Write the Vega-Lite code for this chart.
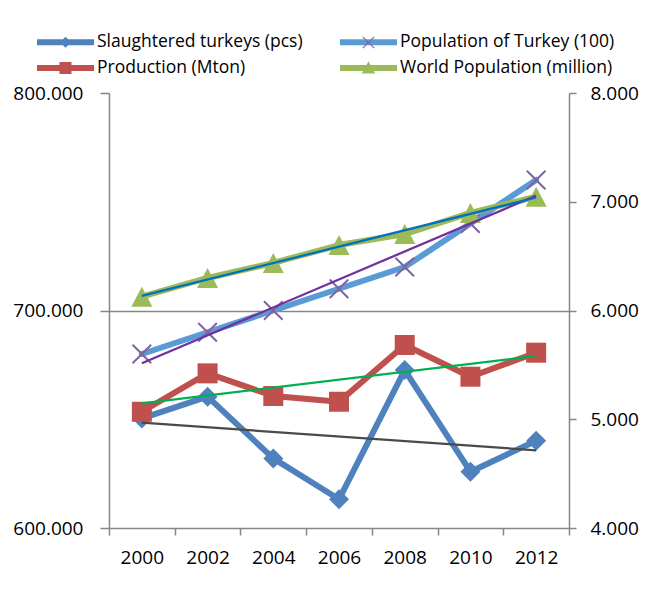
{
  "$schema": "https://vega.github.io/schema/vega-lite/v6.json",
  "width": 460,
  "height": 435,
  "autosize": {"type": "none"},
  "padding": {"left": 109, "top": 93, "right": 76, "bottom": 65},
  "background": "white",
  "config": {"font": "Open Sans", "view": {"stroke": null}},
  "data": {
    "values": [
      {"series": "Slaughtered turkeys (pcs)", "year": 2000, "value": 650400},
      {"series": "Slaughtered turkeys (pcs)", "year": 2002, "value": 660400},
      {"series": "Slaughtered turkeys (pcs)", "year": 2004, "value": 632000},
      {"series": "Slaughtered turkeys (pcs)", "year": 2006, "value": 613200},
      {"series": "Slaughtered turkeys (pcs)", "year": 2008, "value": 672600},
      {"series": "Slaughtered turkeys (pcs)", "year": 2010, "value": 625900},
      {"series": "Slaughtered turkeys (pcs)", "year": 2012, "value": 640100},
      {"series": "Population of Turkey (100)", "year": 2000, "value": 680000},
      {"series": "Population of Turkey (100)", "year": 2002, "value": 690000},
      {"series": "Population of Turkey (100)", "year": 2004, "value": 700000},
      {"series": "Population of Turkey (100)", "year": 2006, "value": 710000},
      {"series": "Population of Turkey (100)", "year": 2008, "value": 720000},
      {"series": "Population of Turkey (100)", "year": 2010, "value": 740000},
      {"series": "Population of Turkey (100)", "year": 2012, "value": 760000},
      {"series": "Production (Mton)", "year": 2000, "value": 5069},
      {"series": "Production (Mton)", "year": 2002, "value": 5422},
      {"series": "Production (Mton)", "year": 2004, "value": 5214},
      {"series": "Production (Mton)", "year": 2006, "value": 5161},
      {"series": "Production (Mton)", "year": 2008, "value": 5683},
      {"series": "Production (Mton)", "year": 2010, "value": 5391},
      {"series": "Production (Mton)", "year": 2012, "value": 5612},
      {"series": "World Population (million)", "year": 2000, "value": 6127},
      {"series": "World Population (million)", "year": 2002, "value": 6299},
      {"series": "World Population (million)", "year": 2004, "value": 6437},
      {"series": "World Population (million)", "year": 2006, "value": 6602},
      {"series": "World Population (million)", "year": 2008, "value": 6703},
      {"series": "World Population (million)", "year": 2010, "value": 6897},
      {"series": "World Population (million)", "year": 2012, "value": 7046}
    ]
  },
  "encoding": {
    "x": {
      "field": "year",
      "type": "quantitative",
      "scale": {"domain": [1999, 2013], "nice": false, "zero": false},
      "axis": {
        "title": null,
        "values": [1999, 2000, 2001, 2002, 2003, 2004, 2005, 2006, 2007, 2008, 2009, 2010, 2011, 2012, 2013],
        "labelExpr": "datum.value % 2 === 0 ? format(datum.value, 'd') : ''",
        "labelOverlap": false,
        "labelFlush": false,
        "grid": false,
        "tickSize": 7,
        "tickWidth": 1.5,
        "tickColor": "#868686",
        "tickOpacity": {"condition": {"test": "datum.value % 2 === 1", "value": 1}, "value": 0},
        "domainColor": "#868686",
        "domainWidth": 1.5,
        "labelFont": "Open Sans",
        "labelFontSize": 19,
        "labelColor": "black",
        "labelPadding": 13
      }
    }
  },
  "layer": [
    {
      "transform": [{"filter": {"field": "series", "oneOf": ["Slaughtered turkeys (pcs)", "Population of Turkey (100)"]}}],
      "encoding": {
        "y": {
          "field": "value",
          "type": "quantitative",
          "scale": {"domain": [600000, 800000], "nice": false, "zero": false},
          "axis": {
            "orient": "left",
            "title": null,
            "values": [600000, 700000, 800000],
            "labelExpr": "replace(format(datum.value, ',d'), ',', '.')",
            "tickSize": 9,
            "tickWidth": 1.5,
            "tickColor": "#868686",
            "domainColor": "#868686",
            "domainWidth": 1.5,
            "grid": true,
            "gridColor": "#868686",
            "gridWidth": 1.5,
            "gridOpacity": {"condition": {"test": "datum.value === 700000", "value": 1}, "value": 0},
            "labelFont": "Open Sans",
            "labelFontSize": 19,
            "labelColor": "black",
            "labelPadding": 17
          }
        }
      },
      "layer": [
        {
          "mark": {"type": "line", "strokeWidth": 6, "strokeJoin": "round", "strokeCap": "round"},
          "encoding": {
            "color": {
              "field": "series",
              "type": "nominal",
              "scale": {
                "domain": ["Slaughtered turkeys (pcs)", "Production (Mton)", "Population of Turkey (100)", "World Population (million)"],
                "range": ["#4F81BD", "#C0504D", "#5B9BD5", "#9BBB59"]
              },
              "legend": {
                "orient": "none",
                "legendX": -72,
                "legendY": -60,
                "columns": 2,
                "title": null,
                "padding": 0,
                "symbolSize": 324,
                "symbolStrokeWidth": 0,
                "symbolOpacity": 1,
                "labelFont": "Open Sans",
                "labelFontSize": 17.5,
                "labelColor": "black",
                "labelOffset": 42,
                "labelLimit": 400,
                "columnPadding": 37,
                "rowPadding": 8,
                "encode": {
                  "symbols": {
                    "update": {
                      "shape": {"signal": "datum.value === 'Slaughtered turkeys (pcs)' ? 'M-1,-0.333H5.333V0.333H-1Z M2.1667,-0.62L2.7867,0L2.1667,0.62L1.5467,0Z' : datum.value === 'Production (Mton)' ? 'M-1,-0.333H5.333V0.333H-1Z M1.5,-0.667H2.833V0.667H1.5Z' : datum.value === 'World Population (million)' ? 'M-1,-0.333H5.333V0.333H-1Z M2.1667,-0.75L2.9167,0.6L1.4167,0.6Z' : 'M-1,-0.333H5.333V0.333H-1Z'"},
                      "fill": {"scale": "color", "field": "value"},
                      "stroke": {"value": "transparent"},
                      "strokeWidth": {"value": 0},
                      "opacity": {"value": 1}
                    }
                  }
                }
              }
            }
          }
        },
        {
          "mark": {"type": "point", "filled": true, "opacity": 1, "size": 400, "strokeWidth": 0},
          "encoding": {
            "fill": {
              "field": "series",
              "type": "nominal",
              "scale": {
                "domain": ["Population of Turkey (100)", "Slaughtered turkeys (pcs)", "Production (Mton)", "World Population (million)"],
                "range": ["#8064A2", "#4F81BD", "#C0504D", "#9BBB59"]
              },
              "legend": {
                "orient": "none",
                "legendX": 253,
                "legendY": -57,
                "values": ["Population of Turkey (100)"],
                "title": null,
                "padding": 0,
                "symbolSize": 150,
                "symbolStrokeWidth": 0,
                "symbolOpacity": 1,
                "labelExpr": "''",
                "labelOpacity": 0,
                "labelFontSize": 10
              }
            },
            "shape": {
              "field": "series",
              "type": "nominal",
              "scale": {
                "domain": ["Population of Turkey (100)", "Slaughtered turkeys (pcs)", "Production (Mton)", "World Population (million)"],
                "range": ["M-1,-0.86L-0.86,-1L0,-0.14L0.86,-1L1,-0.86L0.14,0L1,0.86L0.86,1L0,0.14L-0.86,1L-1,0.86L-0.14,0Z", "diamond", "square", "M0,-1L1.05,1L-1.05,1Z"]
              },
              "legend": {
                "orient": "none",
                "legendX": 253,
                "legendY": -57,
                "values": ["Population of Turkey (100)"],
                "title": null,
                "padding": 0,
                "symbolSize": 150,
                "symbolStrokeWidth": 0,
                "symbolOpacity": 1,
                "labelExpr": "''",
                "labelOpacity": 0,
                "labelFontSize": 10
              }
            }
          }
        }
      ]
    },
    {
      "transform": [{"filter": {"field": "series", "oneOf": ["Production (Mton)", "World Population (million)"]}}],
      "encoding": {
        "y": {
          "field": "value",
          "type": "quantitative",
          "scale": {"domain": [4000, 8000], "nice": false, "zero": false},
          "axis": {
            "orient": "right",
            "title": null,
            "values": [4000, 5000, 6000, 7000, 8000],
            "labelExpr": "replace(format(datum.value, ',d'), ',', '.')",
            "tickSize": 7,
            "tickWidth": 1.5,
            "tickColor": "#868686",
            "domainColor": "#868686",
            "domainWidth": 1.5,
            "grid": false,
            "labelFont": "Open Sans",
            "labelFontSize": 19,
            "labelColor": "black",
            "labelPadding": 14
          }
        }
      },
      "layer": [
        {
          "mark": {"type": "line", "strokeWidth": 6, "strokeJoin": "round", "strokeCap": "round"},
          "encoding": {"color": {"field": "series", "type": "nominal"}}
        },
        {
          "mark": {"type": "point", "filled": true, "opacity": 1, "size": 400, "strokeWidth": 0},
          "encoding": {
            "fill": {"field": "series", "type": "nominal"},
            "shape": {"field": "series", "type": "nominal"}
          }
        }
      ]
    },
    {
      "transform": [
        {"filter": {"field": "series", "oneOf": ["Slaughtered turkeys (pcs)", "Population of Turkey (100)"]}},
        {"regression": "value", "on": "year", "groupby": ["series"]}
      ],
      "mark": {"type": "line", "strokeWidth": 2.25},
      "encoding": {
        "y": {"field": "value", "type": "quantitative", "scale": {"domain": [600000, 800000], "nice": false, "zero": false}, "axis": null},
        "stroke": {
          "field": "series",
          "type": "nominal",
          "scale": {
            "domain": ["Slaughtered turkeys (pcs)", "Population of Turkey (100)", "Production (Mton)", "World Population (million)"],
            "range": ["#4A4A4A", "#7030A0", "#00B050", "#0070C0"]
          },
          "legend": null
        }
      }
    },
    {
      "transform": [
        {"filter": {"field": "series", "oneOf": ["Production (Mton)", "World Population (million)"]}},
        {"regression": "value", "on": "year", "groupby": ["series"]}
      ],
      "mark": {"type": "line", "strokeWidth": 2.25},
      "encoding": {
        "y": {"field": "value", "type": "quantitative", "scale": {"domain": [4000, 8000], "nice": false, "zero": false}, "axis": null},
        "stroke": {"field": "series", "type": "nominal", "legend": null}
      }
    }
  ],
  "resolve": {"scale": {"y": "independent"}, "axis": {"y": "independent"}}
}
